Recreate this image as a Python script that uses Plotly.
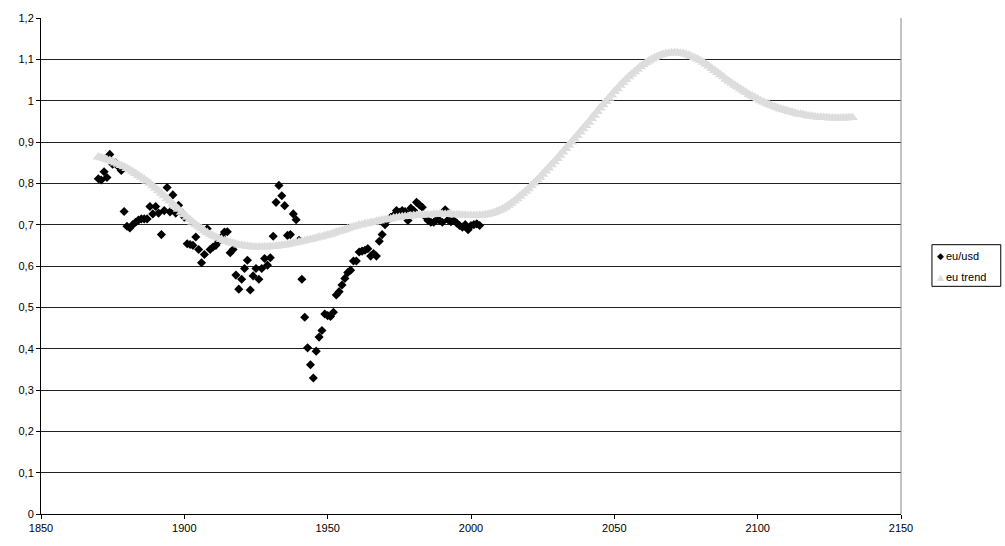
import plotly.graph_objects as go

# Annual EU/USD ratio observations
usd_years = list(range(1870, 2004))
usd_values = [
    0.811, 0.808, 0.828, 0.814, 0.870, 0.846, 0.850, 0.840, 0.831, 0.732,  # 1870s
    0.696, 0.692, 0.700, 0.706, 0.711, 0.714, 0.714, 0.714, 0.744, 0.726,  # 1880s
    0.744, 0.728, 0.676, 0.734, 0.790, 0.731, 0.772, 0.728, 0.747, 0.730,  # 1890s
    0.718, 0.654, 0.652, 0.650, 0.670, 0.640, 0.608, 0.628, 0.690, 0.640,  # 1900s
    0.646, 0.650, 0.660, 0.670, 0.682, 0.683, 0.632, 0.640, 0.578, 0.544,  # 1910s
    0.568, 0.594, 0.614, 0.542, 0.576, 0.594, 0.568, 0.594, 0.618, 0.602,  # 1920s
    0.620, 0.672, 0.754, 0.795, 0.770, 0.746, 0.674, 0.676, 0.726, 0.712,  # 1930s
    0.662, 0.568, 0.476, 0.402, 0.361, 0.329, 0.394, 0.428, 0.444, 0.484,  # 1940s
    0.480, 0.478, 0.488, 0.530, 0.538, 0.554, 0.570, 0.584, 0.590, 0.612,  # 1950s
    0.612, 0.634, 0.636, 0.638, 0.642, 0.624, 0.630, 0.624, 0.660, 0.676,  # 1960s
    0.700, 0.712, 0.718, 0.722, 0.734, 0.730, 0.734, 0.732, 0.710, 0.740,  # 1970s
    0.734, 0.754, 0.748, 0.742, 0.720, 0.710, 0.706, 0.706, 0.712, 0.710,  # 1980s
    0.706, 0.736, 0.712, 0.707, 0.710, 0.704, 0.698, 0.694, 0.700, 0.688,  # 1990s
    0.698, 0.700, 0.702, 0.698,                                            # 2000s
]

# Fitted trend, one value per year
trend_years = list(range(1870, 2134))
trend_values = [
    0.864, 0.862, 0.860, 0.857, 0.855, 0.852, 0.849, 0.846, 0.843, 0.840,
    0.836, 0.832, 0.828, 0.824, 0.819, 0.815, 0.810, 0.805, 0.800, 0.794,
    0.788, 0.782, 0.776, 0.770, 0.763, 0.757, 0.750, 0.744, 0.737, 0.730,
    0.724, 0.718, 0.712, 0.706, 0.700, 0.695, 0.690, 0.685, 0.681, 0.677,
    0.673, 0.670, 0.667, 0.664, 0.661, 0.659, 0.657, 0.655, 0.653, 0.651,
    0.650, 0.649, 0.648, 0.647, 0.646, 0.646, 0.646, 0.646, 0.646, 0.646,
    0.647, 0.647, 0.648, 0.649, 0.650, 0.651, 0.652, 0.654, 0.655, 0.657,
    0.658, 0.660, 0.661, 0.663, 0.664, 0.666, 0.668, 0.670, 0.671, 0.673,
    0.675, 0.677, 0.679, 0.682, 0.684, 0.686, 0.688, 0.690, 0.693, 0.695,
    0.697, 0.699, 0.700, 0.702, 0.703, 0.705, 0.706, 0.708, 0.709, 0.711,
    0.712, 0.713, 0.714, 0.716, 0.717, 0.718, 0.719, 0.720, 0.720, 0.721,
    0.722, 0.722, 0.723, 0.723, 0.724, 0.724, 0.724, 0.725, 0.725, 0.725,
    0.725, 0.725, 0.725, 0.725, 0.724, 0.724, 0.724, 0.723, 0.723, 0.722,
    0.722, 0.722, 0.722, 0.723, 0.723, 0.724, 0.725, 0.727, 0.729, 0.732,
    0.735, 0.738, 0.742, 0.747, 0.752, 0.757, 0.763, 0.769, 0.775, 0.781,
    0.787, 0.794, 0.801, 0.808, 0.815, 0.822, 0.830, 0.837, 0.845, 0.852,
    0.860, 0.868, 0.876, 0.884, 0.892, 0.900, 0.908, 0.916, 0.924, 0.932,
    0.940, 0.948, 0.957, 0.965, 0.974, 0.982, 0.990, 0.998, 1.006, 1.014,
    1.022, 1.029, 1.037, 1.044, 1.051, 1.058, 1.064, 1.070, 1.076, 1.082,
    1.087, 1.092, 1.096, 1.100, 1.104, 1.107, 1.110, 1.112, 1.114, 1.115,
    1.116, 1.116, 1.116, 1.115, 1.114, 1.112, 1.110, 1.107, 1.104, 1.101,
    1.097, 1.093, 1.088, 1.083, 1.078, 1.073, 1.068, 1.063, 1.058, 1.052,
    1.047, 1.042, 1.037, 1.033, 1.028, 1.024, 1.020, 1.015, 1.011, 1.008,
    1.004, 1.000, 0.997, 0.994, 0.991, 0.988, 0.985, 0.983, 0.980, 0.978,
    0.976, 0.974, 0.972, 0.970, 0.968, 0.967, 0.966, 0.964, 0.963, 0.962,
    0.961, 0.960, 0.960, 0.959, 0.959, 0.958, 0.958, 0.958, 0.958, 0.958,
    0.958, 0.958, 0.959, 0.959,
]

x_ticks = [1850, 1900, 1950, 2000, 2050, 2100, 2150]
y_ticks = [0, 0.1, 0.2, 0.3, 0.4, 0.5, 0.6, 0.7, 0.8, 0.9, 1.0, 1.1, 1.2]
y_tick_text = ["0", "0,1", "0,2", "0,3", "0,4", "0,5", "0,6", "0,7",
               "0,8", "0,9", "1", "1,1", "1,2"]

series_names = ["eu/usd", "eu trend"]
usd_color = "#000000"
trend_color = "#dddddd"

fig = go.Figure()

fig.add_trace(go.Scatter(
    x=usd_years, y=usd_values, mode="markers", name=series_names[0],
    marker=dict(symbol="diamond", size=7, color=usd_color, line=dict(width=0)),
))

fig.add_trace(go.Scatter(
    x=trend_years, y=trend_values, mode="markers", name=series_names[1],
    marker=dict(symbol="triangle-up", size=10, color=trend_color, line=dict(width=0)),
))

font = dict(family="Liberation Sans, Arial, sans-serif", size=11, color="#000000")

fig.update_layout(
    width=1005, height=546,
    margin=dict(l=41, r=104, t=17, b=28),
    paper_bgcolor="#ffffff", plot_bgcolor="#ffffff",
    font=font,
    showlegend=False,
    xaxis=dict(
        range=[1850, 2150], tickvals=x_ticks,
        showgrid=False, zeroline=False,
        showline=True, linecolor="#000000", linewidth=1,
        ticks="outside", ticklen=4, tickcolor="#000000",
        tickfont=font,
    ),
    yaxis=dict(
        range=[0, 1.2], tickvals=y_ticks, ticktext=y_tick_text,
        showgrid=True, gridcolor="#222222", gridwidth=1,
        zeroline=False,
        showline=True, linecolor="#000000", linewidth=1,
        ticks="outside", ticklen=4, tickcolor="#000000",
        tickfont=font,
    ),
)

# thin grey border on the right edge of the plot area
fig.add_shape(type="line", xref="paper", yref="paper", x0=1, x1=1, y0=0, y1=1,
              line=dict(color="#888888", width=1))

# compact boxed legend to the right of the plot area
fig.add_shape(type="rect", xref="paper", yref="paper",
              x0=1.036, x1=1.116, y0=0.459, y1=0.543,
              line=dict(color="#000000", width=1), fillcolor="#ffffff")
legend_rows = [
    (series_names[0], "◆", usd_color, 0.521, 9),
    (series_names[1], "▲", trend_color, 0.478, 9),
]
for label, glyph, color, ypos, gsize in legend_rows:
    fig.add_annotation(x=1.0455, y=ypos, xref="paper", yref="paper",
                       text=glyph, showarrow=False, xanchor="center", yanchor="middle",
                       font=dict(family="DejaVu Sans", size=gsize, color=color))
    fig.add_annotation(x=1.050, y=ypos, xref="paper", yref="paper",
                       text=label, showarrow=False, xanchor="left", yanchor="middle",
                       font=font)

fig.write_html("out.html")
